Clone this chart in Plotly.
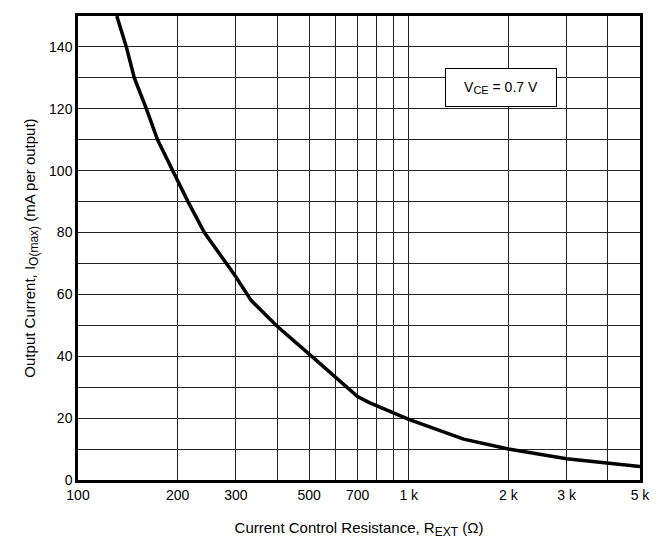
import plotly.graph_objects as go

# Data (R_EXT in ohms, I_O(max) in mA)
r_ext = [131, 140, 148, 161, 174, 193, 200, 215, 241, 256, 280, 300, 334, 400, 500, 600, 700, 760, 900, 1000, 1465, 2000, 3000, 4000, 5000]
i_out = [150, 140, 130, 120, 110, 100, 97, 90, 80, 76, 70.5, 65.7, 58, 49.7, 40.7, 33.2, 27.0, 25.0, 21.8, 19.6, 13.2, 10.0, 6.9, 5.4, 4.4]

x_tickvals = [100, 200, 300, 400, 500, 600, 700, 800, 900, 1000, 2000, 3000, 4000, 5000]
x_ticktext = ["100", "200", "300", "", "500", "", "700", "", "", "1 k", "2 k", "3 k", "", "5 k"]
y_tickvals = list(range(0, 151, 10))
y_ticktext = [str(v) if v % 20 == 0 and v < 150 else "" for v in y_tickvals]

FONT = "Liberation Sans, Arial, sans-serif"

fig = go.Figure()
fig.add_trace(go.Scatter(x=r_ext, y=i_out, mode="lines",
                         line=dict(color="black", width=3.5),
                         showlegend=False, hoverinfo="skip"))

fig.update_layout(
    width=654, height=531,
    margin=dict(l=70, r=22, t=5, b=55),
    paper_bgcolor="white", plot_bgcolor="white",
    font=dict(family=FONT, size=14, color="black"),
    xaxis=dict(type="log", range=[2, 3.69897], tickvals=x_tickvals, ticktext=x_ticktext,
               showgrid=True, gridcolor="#222", gridwidth=1,
               showline=True, linecolor="black", linewidth=2.5, mirror=True,
               ticks="", zeroline=False,
               title=dict(text="Current Control Resistance, R<sub><span style='font-size:12px'>EXT</span></sub> (Ω)",
                          font=dict(size=15), standoff=21)),
    yaxis=dict(range=[0, 150], tickvals=y_tickvals, ticktext=y_ticktext,
               showgrid=True, gridcolor="#222", gridwidth=1,
               showline=True, linecolor="black", linewidth=2.5, mirror=True,
               ticks="", zeroline=False,
               title=dict(text="Output Current, I<sub><span style='font-size:12px'>O(max)</span></sub> (mA per output)",
                          font=dict(size=15), standoff=10)),
)
fig.add_annotation(xref="paper", yref="paper", x=0.753, y=0.846, xanchor="center", yanchor="middle",
                   text="V<sub><span style='font-size:11px'>CE</span></sub> = 0.7 V", showarrow=False,
                   font=dict(size=14, family=FONT, color="black"),
                   bgcolor="white", bordercolor="black", borderwidth=1,
                   width=108, height=35)

fig.write_html("out.html")
